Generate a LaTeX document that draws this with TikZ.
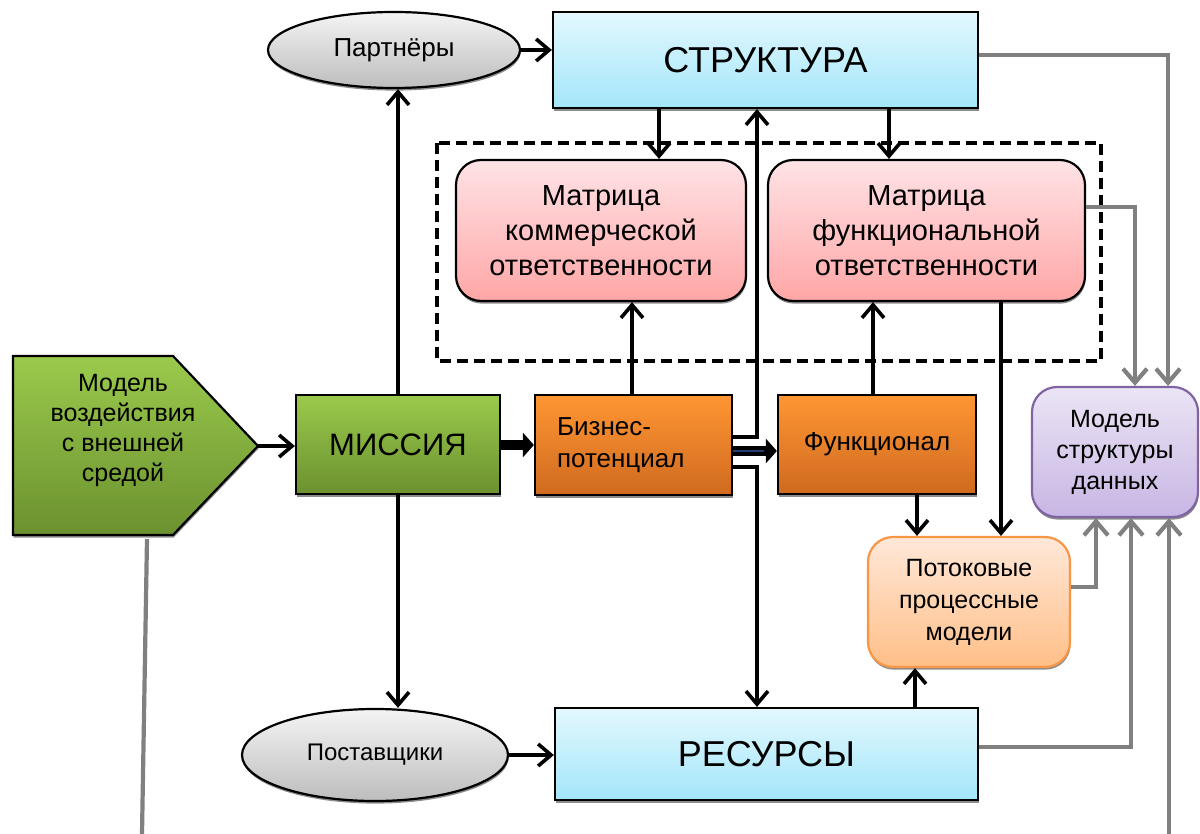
\documentclass[tikz,border=0pt]{standalone}
\usepackage{fontspec}
\setmainfont{Liberation Sans}
\usetikzlibrary{arrows.meta,shapes.geometric,shadows,calc}
\definecolor{cyanA}{HTML}{E3F8FE}
\definecolor{cyanB}{HTML}{A3E6FA}
\definecolor{pinkA}{HTML}{FFE3E6}
\definecolor{pinkB}{HTML}{FFA6A6}
\definecolor{greenA}{HTML}{9ACA4C}
\definecolor{greenB}{HTML}{6B912F}
\definecolor{orA}{HTML}{FF9633}
\definecolor{orB}{HTML}{CF6A1F}
\definecolor{potA}{HTML}{FFE8D8}
\definecolor{potB}{HTML}{FFBF88}
\definecolor{potD}{HTML}{F79646}
\definecolor{lilA}{HTML}{EBE4F5}
\definecolor{lilB}{HTML}{C8B6E4}
\definecolor{lilD}{HTML}{8064A2}
\definecolor{grA}{HTML}{F4F4F4}
\definecolor{grB}{HTML}{BDBDBD}
\definecolor{gline}{HTML}{808080}
\definecolor{navy}{HTML}{1F3F73}

\begin{document}
\begin{tikzpicture}[x=1pt,y=-1pt,
	box/.style={draw=black, line width=2.2pt, inner sep=0pt, align=center, drop shadow={shadow xshift=0.6pt,shadow yshift=-2.6pt,fill=black!45,opacity=1}},
	bluebox/.style={box, top color=cyanA, bottom color=cyanB, font=\fontsize{36}{42}\selectfont},
	pinkbox/.style={box, rounded corners=25pt, top color=pinkA, bottom color=pinkB, minimum height=141pt, font=\fontsize{29}{35}\selectfont},
	orbox/.style={box, top color=orA, bottom color=orB, font=\fontsize{26}{32}\selectfont},
	ovalbox/.style={box, ellipse, top color=grA, bottom color=grB},
	arr/.style={line width=3.6pt, -{Straight Barb[length=13pt,width=22pt]}},
	fat/.style={line width=10pt, -{Triangle[length=11pt,width=24pt]}},
	garr/.style={line width=4.2pt, draw=gline, -{Straight Barb[length=14pt,width=24pt]}},
	gray line/.style={line width=4.2pt, draw=gline},
	frame/.style={line width=3.6pt, dash pattern=on 11pt off 6pt}
	]
	\useasboundingbox (0,0) rectangle (1200,834);
	\draw[frame] (437,143) rectangle (1101,361);
	\node[ovalbox, minimum width=252pt, minimum height=76pt, font=\fontsize{26}{30}\selectfont] (PAR) at (394,50) {Партнёры};
	\node[bluebox, minimum width=425pt, minimum height=96pt] (STR) at (765.5,60) {СТРУКТУРА};
	\node[pinkbox, minimum width=290pt] (MK) at (601,230.5) {Матрица\\коммерческой\\ответственности};
	\node[pinkbox, minimum width=317pt] (MF) at (926.5,230.5) {Матрица\\функциональной\\ответственности};
	\path[draw=black, line width=2.2pt, top color=greenA, bottom color=greenB, drop shadow={shadow xshift=0.6pt,shadow yshift=-2.6pt,fill=black!45,opacity=1}] (13,356) -- (173,356) -- (258,446) -- (173,535) -- (13,535) -- cycle;
	\node[align=center, font=\fontsize{25}{30}\selectfont] (MVS) at (123,430) {Модель\\воздействия\\с внешней\\средой};
	\coordinate (MVSr) at (258,446);
	\coordinate (MVSb) at (147,539);
	\coordinate (MVSe) at (142,834);
	\node[box, top color=greenA, bottom color=greenB, minimum width=204pt, minimum height=99pt, font=\fontsize{31}{36}\selectfont] (MIS) at (398,444.5) {МИССИЯ};
	\node[orbox, minimum width=197pt, minimum height=100pt, text width=153pt, inner xsep=22pt, align=left] (BIZ) at (633.5,445) {Бизнес-\\потенциал\\[8pt]};
	\node[orbox, minimum width=198pt, minimum height=99pt] (FUN) at (877,444.5) {Функционал};
	\node[box, rounded corners=25pt, draw=potD, top color=potA, bottom color=potB, minimum width=202pt, minimum height=130pt, font=\fontsize{25}{32}\selectfont] (POT) at (969,602) {Потоковые\\процессные\\модели};
	\node[box, rounded corners=25pt, draw=lilD, top color=lilA, bottom color=lilB, minimum width=166pt, minimum height=130pt, font=\fontsize{25}{31}\selectfont] (MSD) at (1115,452) {Модель\\структуры\\данных};
	\node[ovalbox, minimum width=266pt, minimum height=92pt, font=\fontsize{24}{28}\selectfont] (POS) at (375,755) {Поставщики};
	\node[bluebox, minimum width=423pt, minimum height=92pt] (RES) at (766.5,754) {РЕСУРСЫ};
	\coordinate (MSDe) at (1169,834);
	\draw[arr] (PAR.east) -- (STR.west |- PAR.east);
	\draw[arr] (MIS.north) -- (PAR.south -| MIS.north);
	\draw[arr] (MIS.south) -- (POS.north -| MIS.south);
	\draw[arr] (POS.east) -- (RES.west |- POS.east);
	\draw[arr] (MVSr) -- (MIS.west |- MVSr);
	\draw[fat] (MIS.east |- 0,445) -- (BIZ.west |- 0,445);
	\draw[fat] (BIZ.east |- 0,451) -- (FUN.west |- 0,451);
	\draw[line width=1.2pt, navy] (BIZ.east |- 0,451) -- ($(FUN.west |- 0,451)+(-13,0)$);
	\draw[arr] (BIZ.east |- 0,437) -| (STR.south -| 757,0);
	\draw[arr] (BIZ.east |- 0,467) -| (RES.north -| 757,0);
	\draw[arr] (STR.south -| 659,0) -- (MK.north -| 659,0);
	\draw[arr] (STR.south -| 889,0) -- (MF.north -| 889,0);
	\draw[arr] (BIZ.north -| 632,0) -- (MK.south -| 632,0);
	\draw[arr] (FUN.north -| 873,0) -- (MF.south -| 873,0);
	\draw[arr] (FUN.south -| 917,0) -- (POT.north -| 917,0);
	\draw[arr] (MF.south -| 1001,0) -- (POT.north -| 1001,0);
	\draw[arr] (RES.north -| 915,0) -- (POT.south -| 915,0);
	\draw[garr] (STR.east |- 0,55) -| (MSD.north -| 1168,0);
	\draw[garr] (MF.east |- 0,207) -| (MSD.north -| 1135,0);
	\draw[garr] (POT.east |- 0,587) -| (MSD.south -| 1096,0);
	\draw[garr] (RES.east |- 0,747) -| (MSD.south -| 1131,0);
	\draw[garr] (MSDe) -- (MSD.south -| MSDe);
	\draw[gray line] (MVSb) -- (MVSe);
\end{tikzpicture}
\end{document}
